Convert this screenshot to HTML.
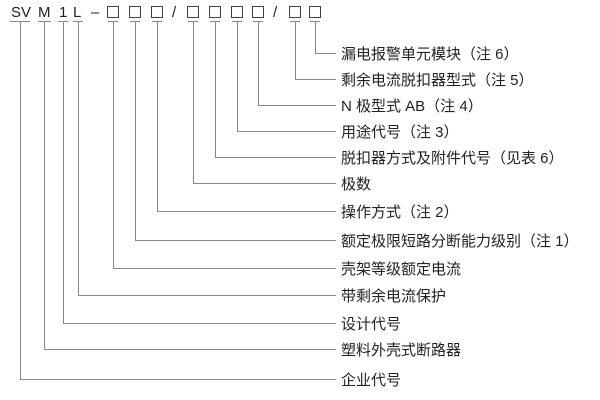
<!DOCTYPE html>
<html><head><meta charset="utf-8"><style>
html,body{margin:0;padding:0;background:#fff;width:600px;height:400px;overflow:hidden}
text{font-family:"Liberation Sans","Noto Sans CJK SC",sans-serif;font-size:15px;fill:#222}
</style></head><body>
<svg width="600" height="400" xmlns="http://www.w3.org/2000/svg">
<g font-size="15">
<text x="11" y="17">SV</text><text x="38" y="17">M</text><text x="59" y="17">1</text><text x="73" y="17">L</text><text x="91" y="17">–</text>
<text x="172" y="17">/</text><text x="273" y="17">/</text>
</g>
<g fill="none" stroke="#444" stroke-width="1">
<rect x="107.5" y="6.5" width="11" height="11"/><rect x="129.5" y="6.5" width="11" height="11"/><rect x="151.5" y="6.5" width="11" height="11"/>
<rect x="187.5" y="6.5" width="11" height="11"/><rect x="209.5" y="6.5" width="11" height="11"/><rect x="231.5" y="6.5" width="11" height="11"/><rect x="252.5" y="6.5" width="11" height="11"/>
<rect x="289.5" y="6.5" width="11" height="11"/><rect x="309.5" y="6.5" width="11" height="11"/>
</g>
<g stroke="#888" stroke-width="1" fill="none">
<path d="M10 21.5h20M38 21.5h13M58 21.5h10M73 21.5h10M108 21.5h10M130 21.5h10M152 21.5h10M188 21.5h10M210 21.5h10M232 21.5h10M253 21.5h10M290 21.5h10M310 21.5h10"/>
<path d="M315.5 22V53.5H336"/>
<path d="M295.5 22V79.5H336"/>
<path d="M258.5 22V105.5H336"/>
<path d="M237.5 22V131.5H336"/>
<path d="M215.5 22V157.5H336"/>
<path d="M193.5 22V183.5H336"/>
<path d="M157.5 22V211.5H336"/>
<path d="M135.5 22V240.5H336"/>
<path d="M113.5 22V268.5H336"/>
<path d="M78.5 22V295.5H336"/>
<path d="M63.5 22V323.5H336"/>
<path d="M44.5 22V349.5H336"/>
<path d="M20.5 22V379.5H336"/>
</g>
<g>
<text x="341" y="59">漏电报警单元模块（注 6）</text>
<text x="341" y="85">剩余电流脱扣器型式（注 5）</text>
<text x="341" y="111">N 极型式 AB（注 4）</text>
<text x="341" y="137">用途代号（注 3）</text>
<text x="341" y="163">脱扣器方式及附件代号（见表 6）</text>
<text x="341" y="189">极数</text>
<text x="341" y="217">操作方式（注 2）</text>
<text x="341" y="246">额定极限短路分断能力级别（注 1）</text>
<text x="341" y="274">壳架等级额定电流</text>
<text x="341" y="301">带剩余电流保护</text>
<text x="341" y="329">设计代号</text>
<text x="341" y="355">塑料外壳式断路器</text>
<text x="341" y="385">企业代号</text>
</g>
</svg>
</body></html>
